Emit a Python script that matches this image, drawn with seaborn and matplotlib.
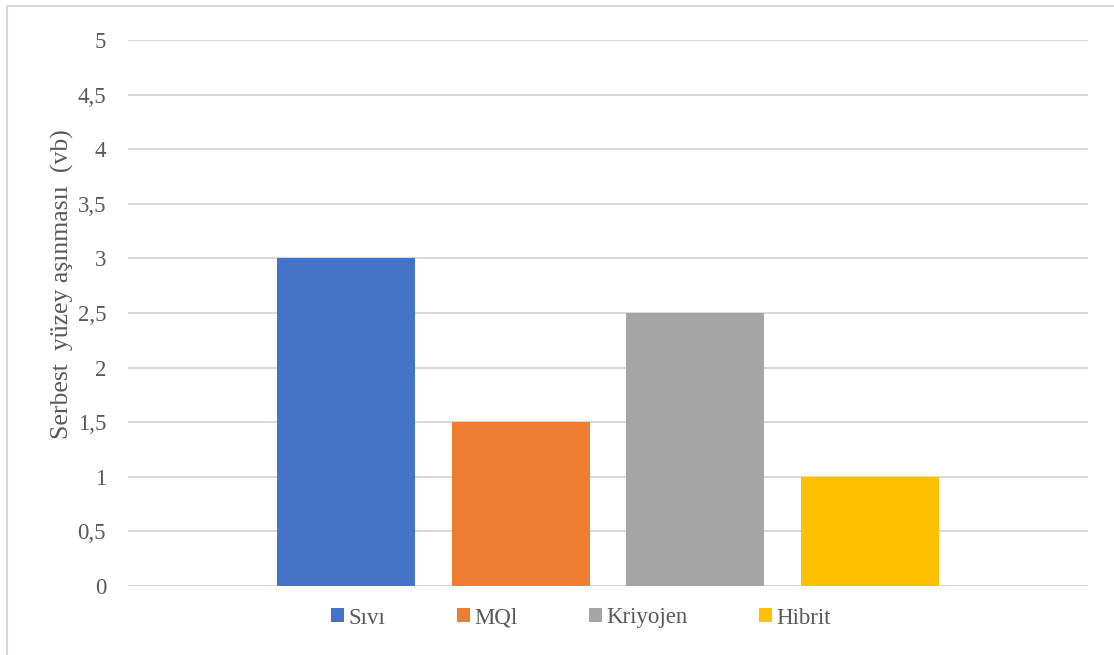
import matplotlib
matplotlib.use("Agg")
import matplotlib.pyplot as plt
from matplotlib.patches import Patch, Rectangle
import seaborn as sns
import pandas as pd

# Series shown as separate bars in a single group
methods = ["Sıvı", "MQl", "Kriyojen", "Hibrit"]
wear_values = [3.0, 1.5, 2.5, 1.0]
colors = ["#4472C4", "#ED7D31", "#A5A5A5", "#FFC000"]
y_ticks = [0, 0.5, 1, 1.5, 2, 2.5, 3, 3.5, 4, 4.5, 5]
y_tick_labels = ["0", "0,5", "1", "1,5", "2", "2,5", "3", "3,5", "4", "4,5", "5"]
y_label = "Serbest  yüzey aşınmasıı  (vb)"

sns.set_theme(style="white")
plt.rcParams["font.family"] = ["Liberation Serif", "DejaVu Serif"]
text_color = "#595959"
grid_color = "#D9D9D9"

fig = plt.figure(figsize=(11.14, 6.55), dpi=100)
ax = fig.add_axes([128 / 1114, 1 - 586 / 655, 960 / 1114, 546 / 655])

df = pd.DataFrame({"method": methods, "value": wear_values})
sns.barplot(data=df, x="method", y="value", hue="method", order=methods,
            hue_order=methods, palette=colors, width=0.79, dodge=False,
            legend=False, ax=ax, saturation=1, linewidth=0)

ax.set_xlim(-1.247, 4.247)
ax.set_ylim(0, 5)
ax.set_yticks(y_ticks)
ax.set_yticklabels(y_tick_labels)
ax.tick_params(axis="y", length=0, pad=15.8, labelsize=16.5, labelcolor=text_color)
ax.set_xticks([])
ax.set_xlabel("")
ax.set_ylabel(y_label, fontsize=18.5, color=text_color)
ax.yaxis.set_label_coords(-0.056, 0.553)

ax.grid(axis="y", color=grid_color, linewidth=1.5)
ax.set_axisbelow(True)
for side in ["top", "right", "left", "bottom"]:
    ax.spines[side].set_visible(False)

handles = [Patch(facecolor=c, edgecolor="none", label=m) for m, c in zip(methods, colors)]
fig.legend(handles=handles, loc="center", bbox_to_anchor=(581 / 1114, 1 - 618 / 655),
           ncol=4, frameon=False, fontsize=16.5, labelcolor=text_color,
           handlelength=0.57, handleheight=0.57, handletextpad=0.2,
           columnspacing=3.1)

# Chart frame
fig.patches.append(Rectangle((7 / 1114, -0.05), 1.2, 1 - 6 / 655 + 0.05,
                             transform=fig.transFigure, fill=False,
                             edgecolor=grid_color, linewidth=1.5))

fig.savefig("out.png", dpi=100, facecolor="white")
